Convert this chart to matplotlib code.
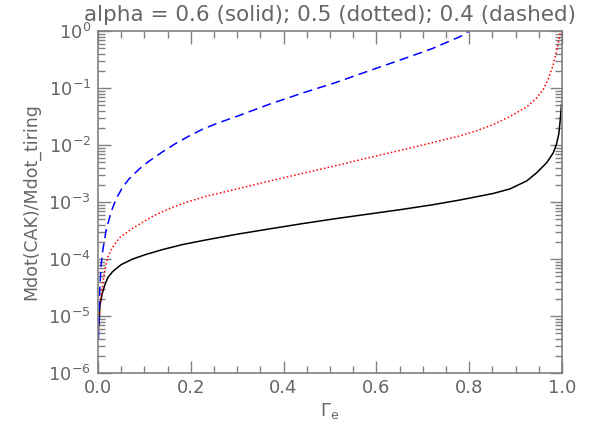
import numpy as np
import matplotlib
matplotlib.use("Agg")
import matplotlib.pyplot as plt
from matplotlib.ticker import MultipleLocator, LogLocator, NullFormatter

# Gamma_e samples and log10(Mdot ratio)

# alpha = 0.6 (solid)
gam_06 = [0.001, 0.0028, 0.0041, 0.0086, 0.0136, 0.0209, 0.0317, 0.0496,
          0.0748, 0.1034, 0.139, 0.183, 0.233, 0.30, 0.371, 0.44, 0.514, 0.58,
          0.651, 0.72, 0.78, 0.852, 0.888, 0.924, 0.945, 0.967, 0.981, 0.988,
          0.993, 0.996, 0.999]
log_06 = [-5.2, -5.05, -4.82, -4.62, -4.48, -4.33, -4.22, -4.10,
          -4.00, -3.92, -3.835, -3.745, -3.665, -3.565, -3.47, -3.38, -3.29, -3.215,
          -3.135, -3.05, -2.965, -2.85, -2.77, -2.63, -2.49, -2.31, -2.14, -1.99,
          -1.81, -1.58, -1.29]

# alpha = 0.5 (dotted)
gam_05 = [0.001, 0.0041, 0.0086, 0.0136, 0.0209, 0.0317, 0.046, 0.0675,
          0.089, 0.118, 0.154, 0.190, 0.233, 0.30, 0.371, 0.44, 0.514, 0.58,
          0.651, 0.72, 0.78, 0.816, 0.852, 0.888, 0.924, 0.945, 0.960, 0.970,
          0.981, 0.988, 0.994, 0.997]
log_05 = [-5.23, -4.82, -4.54, -4.25, -3.97, -3.79, -3.63, -3.50,
          -3.39, -3.25, -3.115, -3.005, -2.90, -2.77, -2.63, -2.50, -2.36, -2.23,
          -2.095, -1.96, -1.84, -1.75, -1.64, -1.50, -1.33, -1.18, -1.02, -0.85,
          -0.60, -0.36, -0.13, 0.0]

# alpha = 0.4 (dashed)
gam_04 = [0.001, 0.0028, 0.0041, 0.0065, 0.0101, 0.0172, 0.028, 0.0388,
          0.053, 0.0675, 0.089, 0.1106, 0.139, 0.168, 0.197, 0.226, 0.26, 0.30,
          0.371, 0.44, 0.514, 0.58, 0.651, 0.72, 0.78, 0.80]
log_04 = [-5.41, -4.82, -4.48, -4.13, -3.86, -3.51, -3.18, -2.95,
          -2.74, -2.59, -2.42, -2.28, -2.12, -1.97, -1.84, -1.72, -1.61, -1.495,
          -1.28, -1.09, -0.90, -0.71, -0.51, -0.31, -0.10, 0.0]

grey = "#808080"
txt = "#666666"

fig = plt.figure(figsize=(5.92, 4.36), dpi=100)
ax = fig.add_axes([98 / 592, 63 / 436, 464 / 592, 342 / 436])

ax.plot(gam_06, 10 ** np.array(log_06), color="black", lw=1.1)
ax.plot(gam_05, 10 ** np.array(log_05), color="red", lw=1.1, linestyle=(0, (1, 1.5)))
ax.plot(gam_04, 10 ** np.array(log_04), color="blue", lw=1.1, linestyle=(0, (6, 3.5)))

ax.set_yscale("log")
ax.set_xlim(0, 1)
ax.set_ylim(1e-6, 1)

ax.xaxis.set_major_locator(MultipleLocator(0.2))
ax.xaxis.set_minor_locator(MultipleLocator(0.05))
ax.xaxis.set_major_formatter(plt.FuncFormatter(lambda v, p: f"{v:.1f}"))
ax.yaxis.set_major_locator(LogLocator(base=10, numticks=10))
ax.yaxis.set_minor_locator(LogLocator(base=10, subs=np.arange(2, 10), numticks=10))
ax.yaxis.set_minor_formatter(NullFormatter())

ax.tick_params(which="both", direction="in", top=True, right=True,
               color=grey, labelcolor=txt, labelsize=13)
ax.tick_params(which="major", length=9, width=1)
ax.tick_params(which="minor", length=5, width=1)
ax.tick_params(axis="x", which="major", pad=4.5)
ax.tick_params(axis="y", which="major", pad=5)
for s in ax.spines.values():
    s.set_color(grey)
    s.set_linewidth(1.2)

fig.text(330 / 592, 1 - 15 / 436, "alpha = 0.6 (solid); 0.5 (dotted); 0.4 (dashed)",
         color=txt, fontsize=15.5, ha="center", va="center")
ax.set_ylabel("Mdot(CAK)/Mdot_tiring", color=txt, fontsize=12.5, labelpad=6)
ax.set_xlabel(r"$\Gamma_{\rm e}$", color=txt, fontsize=13, labelpad=3)

fig.savefig("out.png", dpi=100)
